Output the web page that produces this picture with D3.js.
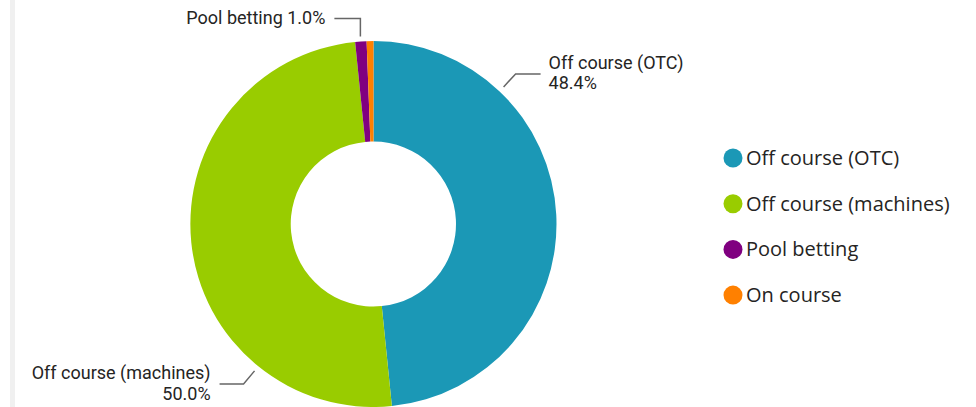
<!DOCTYPE html>
<html>
<head>
<meta charset="utf-8">
<script src="https://cdn.jsdelivr.net/npm/d3@7"></script>
<style>
  body { margin: 0; background: #fff; }
  .label_texts { font-family: Roboto, "Noto Sans", sans-serif; font-size: 18px; fill: #252423; }
  .legend_texts { font-family: "Open Sans", "Noto Sans", sans-serif; font-size: 20px; fill: #252423; }
</style>
</head>
<body>
<div id="chart_container"></div>
<script>
// data
const categories = ["Off course (OTC)", "Off course (machines)", "Pool betting", "On course"];
const shares = [48.4, 50.0, 1.0, 0.6];
const colors = ["#1b98b6", "#99cc00", "#800080", "#ff8000"];
// where the leader line touches each labelled slice (degrees from 12 o'clock)
const labelAngles = [43.5, 219, 356, null];

const width = 976, height = 407;
const cx = 373.5, cy = 224, outerR = 183, innerR = 82.5;

const svg = d3.select("#chart_container").append("svg")
    .attr("width", width)
    .attr("height", height);

// grey strip at left edge
svg.append("rect")
    .attr("x", 10).attr("y", 0)
    .attr("width", 5).attr("height", height)
    .style("fill", "#f0f0f0");

const data = categories.map((c, i) => ({ name: c, value: shares[i], color: colors[i], angle: labelAngles[i] }));

const pie = d3.pie().value(d => d.value).sort(null);
const arc = d3.arc().innerRadius(innerR).outerRadius(outerR);

const g = svg.append("g").attr("transform", `translate(${cx},${cy})`);

g.selectAll("path")
    .data(pie(data))
    .join("path")
    .attr("d", arc)
    .style("fill", d => d.data.color);

function polar(deg, r) {
    const a = deg * Math.PI / 180;
    return [r * Math.sin(a), -r * Math.cos(a)];
}

const lineColor = "#666";
const fmt = d => d3.format(".1f")(d) + "%";

// OTC label (right, two lines)
let p0 = polar(labelAngles[0], outerR + 6);
g.append("polyline")
    .attr("points", [p0, [p0[0] + 12, p0[1] - 13], [p0[0] + 37, p0[1] - 13]].map(p => p.join(",")).join(" "))
    .style("fill", "none").style("stroke", lineColor).style("stroke-width", 1.5);
let t = g.append("text").attr("class", "label_texts")
    .attr("x", p0[0] + 45).attr("y", p0[1] - 18);
t.append("tspan").text(data[0].name);
t.append("tspan").attr("x", p0[0] + 45).attr("dy", 20.5).text(fmt(data[0].value));

// machines label (left, two lines, right aligned)
let p1 = polar(labelAngles[1], outerR + 6);
g.append("polyline")
    .attr("points", [p1, [p1[0] - 11, p1[1] + 13], [p1[0] - 35, p1[1] + 13]].map(p => p.join(",")).join(" "))
    .style("fill", "none").style("stroke", lineColor).style("stroke-width", 1.5);
t = g.append("text").attr("class", "label_texts")
    .attr("text-anchor", "end")
    .attr("x", p1[0] - 44).attr("y", p1[1] + 8.5);
t.append("tspan").text(data[1].name);
t.append("tspan").attr("x", p1[0] - 44).attr("dy", 20.5).text(fmt(data[1].value));

// pool betting label (top, one line)
let p2 = polar(labelAngles[2], outerR + 5);
g.append("polyline")
    .attr("points", [p2, [p2[0], p2[1] - 18], [p2[0] - 26, p2[1] - 18]].map(p => p.join(",")).join(" "))
    .style("fill", "none").style("stroke", lineColor).style("stroke-width", 1.5);
g.append("text").attr("class", "label_texts")
    .attr("text-anchor", "end")
    .attr("x", p2[0] - 35).attr("y", p2[1] - 12.5)
    .text(data[2].name + " " + fmt(data[2].value));

// legend
const legend = svg.append("g").attr("transform", "translate(733,158)");
const rows = legend.selectAll("g")
    .data(data)
    .join("g")
    .attr("transform", (d, i) => `translate(0,${i * 45.7})`);
rows.append("circle").attr("r", 9.5).style("fill", d => d.color);
rows.append("text").attr("class", "legend_texts")
    .attr("x", 13).attr("y", 7)
    .text(d => d.name);
</script>
</body>
</html>
